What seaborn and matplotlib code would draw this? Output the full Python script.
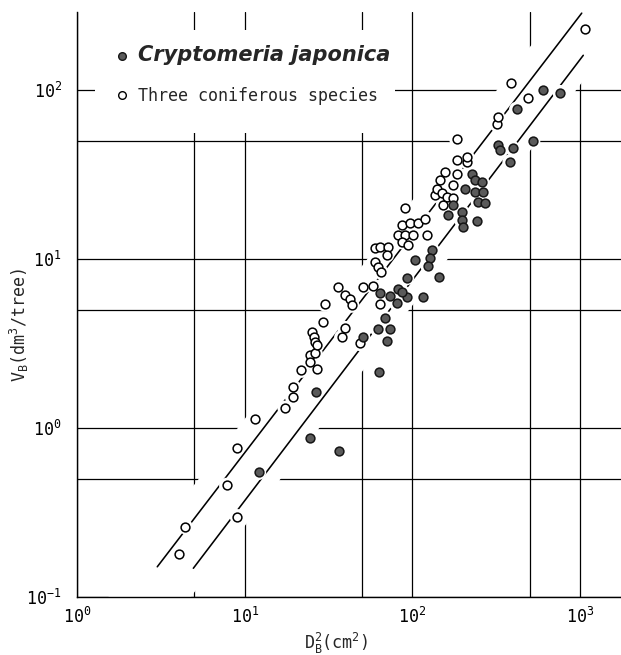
import numpy as np
import matplotlib
matplotlib.use("Agg")
import matplotlib.pyplot as plt
from matplotlib.ticker import FixedLocator, NullFormatter
from matplotlib.patches import Rectangle
from matplotlib.lines import Line2D
import seaborn as sns

# Cryptomeria japonica: squared diameter D_B^2 (cm^2) and volume V_B (dm^3/tree)
cj_d2 = [12.1, 24.5, 26.5, 36.6, 63.2, 70.6, 50.5, 62.1, 73.5, 68.7,
         64.1, 73.5, 80.6, 82.4, 92.4, 86.7, 115, 92.4, 104, 131,
         127, 124, 144, 164, 175, 197, 197, 200, 242, 206,
         226, 236, 259, 236, 265, 247, 271, 325, 333, 396,
         382, 419, 522, 598, 759]
cj_v = [0.547, 0.877, 1.63, 0.734, 2.14, 3.27, 3.47, 3.85, 3.84, 4.46,
        6.29, 6.04, 5.47, 6.62, 5.98, 6.38, 5.98, 7.77, 9.86, 11.3,
        10.1, 9.09, 7.86, 18.2, 20.9, 19.0, 17.0, 15.4, 16.9, 26.2,
        32.1, 29.3, 28.7, 25.0, 25.0, 21.8, 21.4, 47.3, 44.2, 45.2,
        37.7, 77.2, 49.9, 101, 96.9]

# three coniferous species
tc_d2 = [4.07, 4.41, 7.81, 9.03, 9.03, 11.5, 17.4, 19.3, 19.4, 21.8,
         24.5, 26.3, 24.5, 26.9, 25.1, 25.9, 26.3, 26.9, 29.2, 30.1,
         36.2, 39.6, 42.5, 43.5, 39.6, 37.9, 48.7, 50.5, 58.5, 64.1,
         59.8, 64.1, 71.8, 70.3, 59.8, 62.6, 64.7, 82.4, 90.3, 101,
         86.3, 94.6, 122, 86.3, 96.8, 108, 119, 90.3, 136, 140,
         150, 160, 175, 153, 146, 175, 156, 184, 184, 212,
         212, 184, 318, 322, 387, 486, 1070]
tc_v = [0.179, 0.261, 0.458, 0.764, 0.299, 1.125, 1.31, 1.52, 1.75, 2.20,
        2.70, 2.77, 2.47, 2.23, 3.71, 3.47, 3.24, 3.10, 4.26, 5.42,
        6.80, 6.12, 5.85, 5.34, 3.89, 3.44, 3.17, 6.86, 6.92, 5.42,
        11.6, 11.8, 11.8, 10.6, 9.64, 8.93, 8.41, 13.9, 13.9, 13.9,
        12.7, 12.1, 13.9, 15.9, 16.4, 16.4, 17.4, 20.2, 23.9, 26.2,
        24.5, 23.4, 22.9, 20.9, 29.3, 27.4, 32.9, 32.1, 38.9, 37.7,
        40.0, 51.3, 63.0, 69.5, 111, 89.7, 229]

# fitted lines (end points)
cj_line_d2 = [4.94, 1045]
cj_line_v = [0.148, 161]
tc_line_d2 = [3.01, 1023]
tc_line_v = [0.151, 286]

series_labels = ["Cryptomeria japonica", "Three coniferous species"]
x_major = [1, 10, 100, 1000]
x_minor = [5, 50, 500]
y_major = [0.1, 1, 10, 100]
y_minor = [0.5, 5, 50]

sns.set_style("white")
plt.rcParams["font.family"] = ["DejaVu Sans Mono"]
plt.rcParams["mathtext.default"] = "regular"

fig = plt.figure(figsize=(6.21, 6.55), dpi=100)
ax = fig.add_axes([0.124, 0.0885, 0.876, 0.893])
ax.set_xscale("log")
ax.set_yscale("log")
ax.set_xlim(1, 1754)
ax.set_ylim(0.1, 290)

# reference grid at 1-5-10 steps
ax.xaxis.set_major_locator(FixedLocator(x_major))
ax.xaxis.set_minor_locator(FixedLocator(x_minor))
ax.yaxis.set_major_locator(FixedLocator(y_major))
ax.yaxis.set_minor_locator(FixedLocator(y_minor))
ax.xaxis.set_minor_formatter(NullFormatter())
ax.yaxis.set_minor_formatter(NullFormatter())
ax.set_axisbelow(True)
ax.grid(True, which="both", color="black", lw=0.9)


def log_line(xs, ys):
    lx, ly = np.log10(xs), np.log10(ys)
    slope = (ly[1] - ly[0]) / (lx[1] - lx[0])
    return lambda x: ly[0] + slope * (np.log10(x) - lx[0])


tc_fit = log_line(tc_line_d2, tc_line_v)
cj_fit = log_line(cj_line_d2, cj_line_v)

# keep the grid clear along the band of observations
xb = np.logspace(-0.3, 3.5, 300)
ax.fill_between(xb, 10 ** (cj_fit(xb) - 0.15), 10 ** (tc_fit(xb) + 0.2),
                color="white", lw=0, zorder=1)
# clear space behind the key
ax.add_patch(Rectangle((0.033, 0.793), 0.552, 0.176, transform=ax.transAxes,
                       facecolor="white", edgecolor="none", zorder=1))

for lx, ly in [(tc_line_d2, tc_line_v), (cj_line_d2, cj_line_v)]:
    sns.lineplot(x=lx, y=ly, ax=ax, color="black", lw=1.15,
                 estimator=None, zorder=2)

# white halo so lines and grid break around each symbol
for xs, ys in [(tc_d2, tc_v), (cj_d2, cj_v)]:
    sns.scatterplot(x=xs, y=ys, ax=ax, s=120, color="white",
                    edgecolor="none", linewidth=0, zorder=2.5, legend=False)

sns.scatterplot(x=tc_d2, y=tc_v, ax=ax, s=40, color="white",
                edgecolor="black", linewidth=1.1, zorder=3, legend=False)
sns.scatterplot(x=cj_d2, y=cj_v, ax=ax, s=40, color="#5a5a5a",
                edgecolor="#151515", linewidth=1.1, zorder=3, legend=False)

handles = [
    Line2D([], [], ls="none", marker="o", ms=5.5, mfc="#5a5a5a",
           mec="#151515", mew=1.0),
    Line2D([], [], ls="none", marker="o", ms=5.5, mfc="white",
           mec="black", mew=1.0),
]
leg = ax.legend(handles, series_labels, loc="upper left",
                bbox_to_anchor=(0.070, 0.943), frameon=False,
                handlelength=0.8, handletextpad=0.6, labelspacing=1.3,
                fontsize=12, borderpad=0, borderaxespad=0)
t0 = leg.get_texts()[0]
t0.set_fontfamily("DejaVu Sans")
t0.set_fontweight("bold")
t0.set_fontstyle("italic")
t0.set_fontsize(15)

for side in ["top", "right"]:
    ax.spines[side].set_visible(False)
for side in ["left", "bottom"]:
    ax.spines[side].set_color("black")
    ax.spines[side].set_linewidth(1.0)

ax.tick_params(which="both", length=0, labelsize=12, colors="black")
ax.tick_params(axis="y", pad=11)
ax.tick_params(axis="x", pad=7)

ax.set_xlabel(r"D$_B^2$(cm$^2$)", fontsize=12)
ax.set_ylabel(r"V$_B$(dm$^3$/tree)", fontsize=12)
ax.xaxis.set_label_coords(0.476, -0.058)
ax.yaxis.set_label_coords(-0.085, 0.465)

fig.savefig("out.png", dpi=100)
